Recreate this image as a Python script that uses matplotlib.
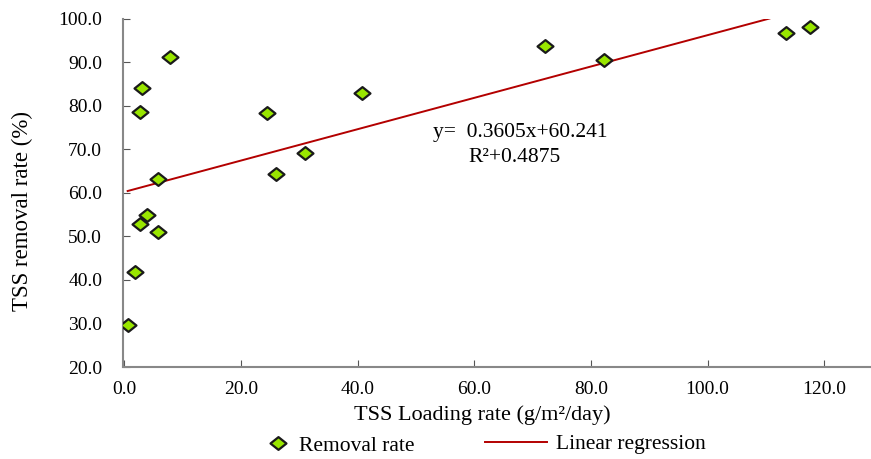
import matplotlib
matplotlib.use("Agg")
import matplotlib.pyplot as plt
from matplotlib.path import Path
from matplotlib.lines import Line2D

plt.rcParams['font.family'] = ['Liberation Serif', 'DejaVu Serif']

loading = [7.8, 3.05, 2.65, 24.5, 5.84, 26.1, 31.0, 40.7, 3.85, 2.65, 5.84, 1.8, 0.6, 72.1, 82.3, 113.4, 117.6]
removal = [91.3, 84.1, 78.7, 78.3, 63.3, 64.4, 69.1, 83.0, 54.9, 52.8, 51.0, 41.8, 29.7, 93.9, 90.5, 96.8, 98.1]
slope = 0.3605
intercept = 60.241
fit_x = [0.6, 110.6]
xticks = [0, 20, 40, 60, 80, 100, 120]
yticks = [20, 30, 40, 50, 60, 70, 80, 90, 100]

diamond = Path([(-1, 0), (0, 0.8), (1, 0), (0, -0.8), (-1, 0)],
               [Path.MOVETO, Path.LINETO, Path.LINETO, Path.LINETO, Path.CLOSEPOLY])

W, H = 871, 459
fig = plt.figure(figsize=(W / 100, H / 100), dpi=100)
ax = fig.add_axes([123 / W, 1 - 367 / H, 1 - 123 / W, (367 - 19) / H])

fit_y = [slope * v + intercept for v in fit_x]
ax.plot(fit_x, fit_y, color='#B30000', lw=1.4, zorder=2)
mk = dict(ls='none', marker=diamond, markersize=11.5,
          markerfacecolor='#99E600', markeredgecolor='#1a1a1a', markeredgewidth=1.6)
ax.plot(loading, removal, zorder=3, **mk)

ax.set_xlim(-0.2, 128)
ax.set_ylim(20, 100)
ax.set_xticks(xticks)
ax.set_yticks(yticks)
ax.set_xticklabels([f"{v:.1f}" for v in xticks])
ax.set_yticklabels([f"{v:.1f}" for v in yticks])
for s in ['top', 'right']:
    ax.spines[s].set_visible(False)
for s in ['left', 'bottom']:
    ax.spines[s].set_color('#888888')
    ax.spines[s].set_linewidth(1.5)
ax.tick_params(axis='both', direction='in', color='#555555', labelsize=14, length=5)
ax.tick_params(axis='y', pad=15)
ax.tick_params(axis='x', pad=10)

ax.set_xlabel('TSS Loading rate (g/m²/day)', fontsize=16, labelpad=5)
ax.xaxis.label.set_x(0.481)
ax.set_ylabel('TSS removal rate (%)', fontsize=16.5, labelpad=18)
ax.yaxis.label.set_y(0.448)

fig.text(433 / W, 1 - 133 / H, 'y=  0.3605x+60.241', fontsize=15.5,
         ha='left', va='center')
fig.text(468 / W, 1 - 157 / H, 'R²+0.4875', fontsize=15.5,
         ha='left', va='center')

h1 = Line2D([], [], **mk)
h2 = Line2D([], [], color='#B30000', lw=1.4)
fig.legend([h1], ['Removal rate'], loc='center left',
           bbox_to_anchor=(265 / W, 1 - 446 / H), frameon=False, fontsize=15.5,
           handlelength=1.2, handletextpad=0.4, borderpad=0, borderaxespad=0)
fig.legend([h2], ['Linear regression'], loc='center left',
           bbox_to_anchor=(485 / W, 1 - 444 / H), frameon=False, fontsize=15.5,
           handlelength=2.9, handletextpad=0.4, borderpad=0, borderaxespad=0)

fig.savefig('out.png', dpi=100)
